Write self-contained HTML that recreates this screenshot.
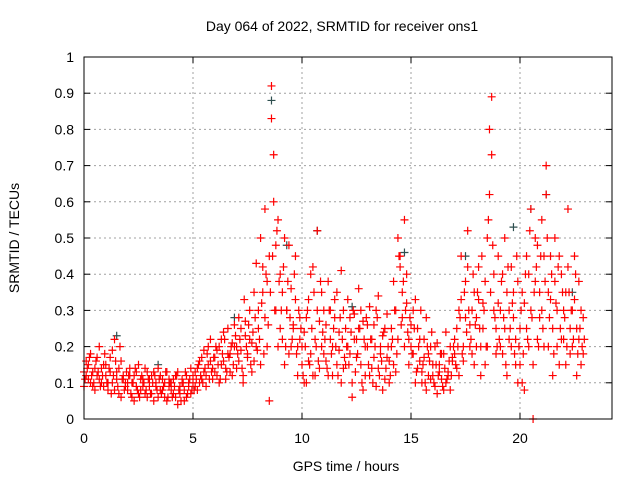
<!DOCTYPE html>
<html><head><meta charset="utf-8"><style>
body{margin:0;background:#fff}
svg{display:block;font-family:"Liberation Sans",sans-serif}
</style></head><body>
<svg id="chart" width="640" height="480">
<text x="342" y="31" font-size="14" text-anchor="middle">Day 064 of 2022, SRMTID for receiver ons1</text>
<text transform="translate(19,238) rotate(-90)" font-size="14" text-anchor="middle">SRMTID / TECUs</text>
<text x="346" y="471" font-size="14" text-anchor="middle">GPS time / hours</text>
<g id="grid"></g>
<g id="ticks"></g>
<g id="marks"></g>
<rect x="84" y="57" width="528" height="362" fill="none" stroke="#000" stroke-width="1"/>
</svg>
<script>
const xTicks=[0,5,10,15,20];
const yTicks=[0,0.1,0.2,0.3,0.4,0.5,0.6,0.7,0.8,0.9,1];
const yTickLabels=["0","0.1","0.2","0.3","0.4","0.5","0.6","0.7","0.8","0.9","1"];
const times=[0,0.1,0.2,0.3,0.4,0.5,0.6,0.7,0.8,0.9,1,1.1,1.2,1.3,1.4,1.5,1.6,1.7,1.8,1.9,2,2.1,2.2,2.3,2.4,2.5,2.6,2.7,2.8,2.9,3,3.1,3.2,3.3,3.4,3.5,3.6,3.7,3.8,3.9,4,4.1,4.2,4.3,4.4,4.5,4.6,4.7,4.8,4.9,5,5.1,5.2,5.3,5.4,5.5,5.6,5.7,5.8,5.9,6,6.1,6.2,6.3,6.4,6.5,6.6,6.7,6.8,6.9,7,7.1,7.2,7.3,7.4,7.5,7.6,7.7,7.8,7.9,8,8.1,8.2,8.3,8.4,8.5,8.6,8.7,8.8,8.9,9,9.1,9.2,9.3,9.4,9.5,9.6,9.7,9.8,9.9,10,10.1,10.2,10.3,10.4,10.5,10.6,10.7,10.8,10.9,11,11.1,11.2,11.3,11.4,11.5,11.6,11.7,11.8,11.9,12,12.1,12.2,12.3,12.4,12.5,12.6,12.7,12.8,12.9,13,13.1,13.2,13.3,13.4,13.5,13.6,13.7,13.8,13.9,14,14.1,14.2,14.3,14.4,14.5,14.6,14.7,14.8,14.9,15,15.1,15.2,15.3,15.4,15.5,15.6,15.7,15.8,15.9,16,16.1,16.2,16.3,16.4,16.5,16.6,16.7,16.8,16.9,17,17.1,17.2,17.3,17.4,17.5,17.6,17.7,17.8,17.9,18,18.1,18.2,18.3,18.4,18.5,18.6,18.7,18.8,18.9,19,19.1,19.2,19.3,19.4,19.5,19.6,19.7,19.8,19.9,20,20.1,20.2,20.3,20.4,20.5,20.6,20.7,20.8,20.9,21,21.1,21.2,21.3,21.4,21.5,21.6,21.7,21.8,21.9,22,22.1,22.2,22.3,22.4,22.5,22.6,22.7,22.8,22.9];
const seriesA=[.13,.16,.11,.18,.09,.14,.12,.2,.1,.15,.12,.08,.17,.1,.22,.13,.07,.16,.11,.09,.1,.14,.06,.12,.09,.15,.08,.11,.07,.13,.09,.12,.05,.1,.14,.08,.11,.06,.13,.09,.08,.11,.06,.13,.07,.1,.05,.12,.09,.14,.1,.13,.08,.16,.11,.19,.12,.15,.22,.14,.17,.12,.2,.15,.24,.11,.18,.13,.21,.26,.14,.28,.19,.12,.23,.17,.3,.21,.16,.43,.25,.5,.35,.58,.2,.45,.92,.6,.3,.55,.4,.22,.5,.3,.18,.36,.25,.45,.2,.28,.15,.24,.1,.33,.18,.42,.12,.52,.27,.2,.3,.16,.38,.22,.12,.28,.35,.19,.41,.14,.25,.33,.18,.1,.29,.22,.36,.15,.27,.12,.2,.31,.14,.26,.09,.34,.18,.23,.11,.29,.16,.25,.38,.13,.5,.42,.28,.55,.32,.22,.26,.18,.33,.14,.22,.1,.17,.28,.12,.2,.15,.09,.21,.13,.18,.08,.24,.12,.2,.16,.22,.14,.3,.45,.2,.38,.52,.26,.18,.35,.28,.42,.2,.32,.15,.5,.62,.89,.4,.25,.45,.3,.18,.5,.35,.22,.42,.28,.15,.38,.25,.1,.32,.45,.2,.58,.15,.38,.48,.28,.55,.2,.7,.35,.45,.25,.5,.3,.15,.4,.22,.35,.58,.18,.3,.45,.25,.38,.15,.28];
const seriesB=[.09,.12,.15,.1,.13,.08,.17,.11,.14,.09,.15,.1,.13,.19,.08,.11,.14,.06,.12,.1,.08,.12,.1,.05,.13,.07,.11,.09,.14,.06,.11,.07,.13,.09,.06,.12,.08,.1,.05,.11,.1,.07,.12,.04,.09,.11,.08,.06,.1,.07,.12,.09,.14,.1,.17,.13,.09,.2,.16,.11,.13,.19,.1,.22,.16,.14,.25,.18,.12,.2,.2,.16,.25,.1,.27,.18,.22,.13,.35,.2,.3,.15,.42,.28,.38,.05,.83,.73,.48,.2,.25,.35,.15,.3,.48,.2,.26,.33,.12,.22,.2,.1,.28,.16,.4,.12,.22,.3,.14,.35,.18,.26,.12,.3,.2,.33,.15,.24,.1,.3,.15,.2,.28,.06,.22,.17,.25,.3,.08,.2,.26,.12,.22,.17,.3,.14,.2,.08,.25,.17,.1,.2,.15,.3,.22,.45,.35,.2,.4,.15,.2,.3,.1,.25,.16,.13,.22,.08,.18,.11,.12,.2,.07,.15,.11,.18,.1,.13,.08,.17,.18,.25,.12,.33,.16,.28,.42,.2,.3,.15,.2,.33,.12,.25,.38,.2,.8,.73,.3,.18,.32,.2,.4,.25,.12,.3,.2,.35,.22,.1,.15,.35,.08,.25,.4,.3,0,.5,.22,.35,.3,.45,.62,.2,.33,.12,.38,.2,.45,.22,.3,.15,.42,.25,.2,.33,.12,.22,.3,.18];
const seriesC=[.11,.14,.17,.12,.1,.16,.13,.09,.12,.18,.1,.14,.07,.12,.16,.09,.2,.11,.08,.13,.12,.07,.1,.14,.08,.06,.12,.1,.08,.11,.07,.1,.12,.08,.11,.07,.09,.13,.06,.1,.06,.09,.12,.08,.05,.1,.13,.07,.11,.08,.08,.11,.15,.12,.1,.14,.18,.11,.13,.17,.2,.15,.11,.18,.22,.13,.17,.2,.15,.23,.18,.22,.14,.33,.2,.26,.15,.24,.28,.19,.22,.32,.18,.4,.26,.35,.45,.3,.52,.38,.3,.42,.2,.38,.28,.22,.4,.18,.3,.25,.12,.2,.3,.15,.25,.35,.2,.16,.38,.24,.22,.14,.3,.18,.25,.2,.12,.28,.22,.17,.2,.15,.24,.3,.13,.18,.25,.1,.22,.28,.15,.22,.1,.2,.28,.12,.16,.24,.14,.2,.12,.22,.3,.18,.45,.26,.38,.3,.24,.28,.18,.25,.13,.2,.3,.15,.1,.2,.16,.24,.1,.15,.12,.18,.09,.14,.11,.16,.12,.2,.15,.2,.28,.18,.35,.24,.3,.22,.4,.26,.35,.25,.45,.3,.2,.55,.35,.48,.28,.2,.22,.38,.28,.15,.42,.25,.32,.18,.45,.2,.3,.18,.4,.22,.52,.28,.35,.42,.2,.45,.25,.38,.5,.28,.4,.18,.32,.42,.25,.35,.28,.2,.35,.3,.22,.4,.18,.25,.2,.22];
const grayTimes=[1.5,3.4,6.9,8.6,9.3,10.7,12.3,14.7,17.5,19.7,20.5,21.2,22.4];
const grayValues=[.23,.15,.28,.88,.48,.52,.31,.46,.45,.53,.58,.62,.35];

const X0=84,X1=612,Y0=419,Y1=57,XMAX=24.22;
const sx=v=>X0+v/XMAX*(X1-X0);
const sy=v=>Y0-v*(Y0-Y1);
const NS="http://www.w3.org/2000/svg";
const grid=document.getElementById('grid'),ticks=document.getElementById('ticks'),marks=document.getElementById('marks');
function mk(tag,attrs,parent){const e=document.createElementNS(NS,tag);for(const k in attrs)e.setAttribute(k,attrs[k]);parent.appendChild(e);return e;}
yTicks.forEach((v,i)=>{
  const y=sy(v);
  if(i>0&&i<yTicks.length-1){const g=mk('line',{x1:X0,x2:X1,y1:y,y2:y,stroke:'#a0a0a0','stroke-dasharray':'2,3'},grid);
  
  }
  mk('line',{x1:X0,x2:X0+6,y1:y,y2:y,stroke:'#000'},ticks);
  mk('line',{x1:X1,x2:X1-6,y1:y,y2:y,stroke:'#000'},ticks);
  const t=mk('text',{x:X0-10,y:y+5,'font-size':14,'text-anchor':'end'},ticks);
  t.textContent=yTickLabels[i];
  
  
});
xTicks.forEach(v=>{
  const x=sx(v);
  if(v>0){const g=mk('line',{x1:x,x2:x,y1:Y0,y2:Y1,stroke:'#a0a0a0','stroke-dasharray':'2,3'},grid);
  
  }
  mk('line',{x1:x,x2:x,y1:Y0,y2:Y0-6,stroke:'#000'},ticks);
  mk('line',{x1:x,x2:x,y1:Y1,y2:Y1+6,stroke:'#000'},ticks);
  const t=mk('text',{x:x,y:443,'font-size':14,'text-anchor':'middle'},ticks);
  t.textContent=String(v);
  
  
});
function plus(t,v,color,name){
  const x=sx(t),y=sy(v);
  const p=mk('path',{d:`M${x-4},${y}H${x+4}M${x},${y-4}V${y+4}`,stroke:color,'stroke-width':1.2,fill:'none'},marks);
  
  
}
grayTimes.forEach((t,i)=>plus(t,grayValues[i],'#2f4f4f','point-gray'));
times.forEach((t,i)=>plus(t,seriesA[i],'#ff0000','point-a'));
times.forEach((t,i)=>plus(t,seriesB[i],'#ff0000','point-b'));
times.forEach((t,i)=>plus(t+0.05,seriesC[i],'#ff0000','point-c'));
</script>
</body></html>
